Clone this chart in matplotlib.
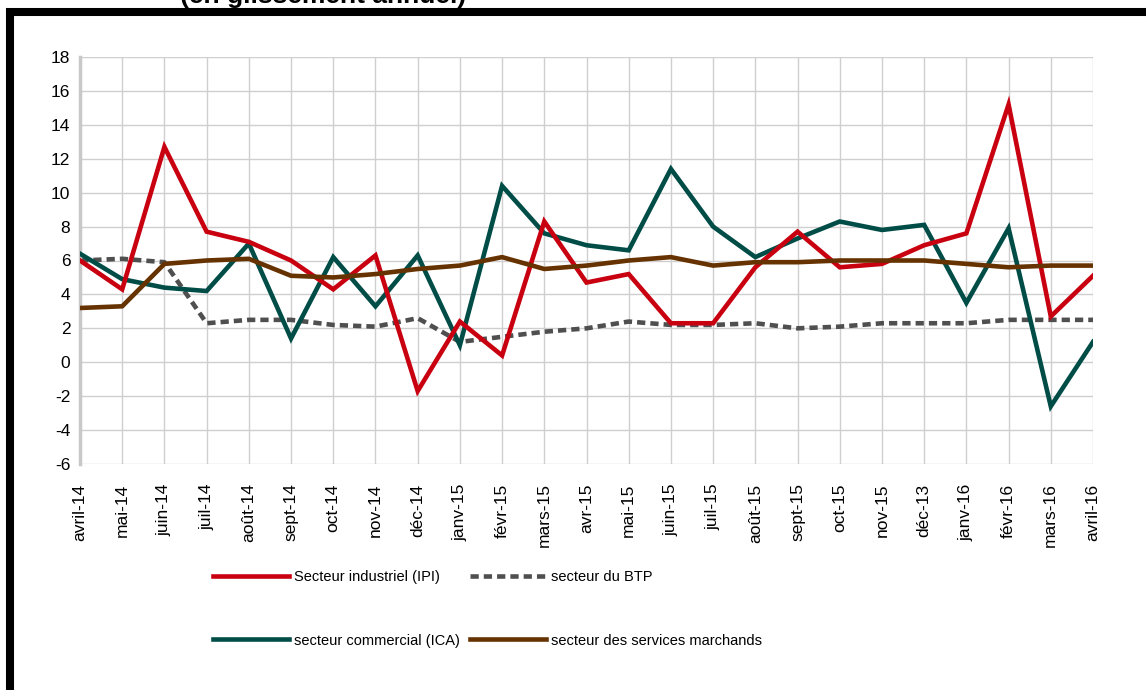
import matplotlib
matplotlib.use("Agg")
import matplotlib.pyplot as plt
from matplotlib.patches import Rectangle


# Months shown on the x axis (as written in the source chart)
mois = ["avril-14", "mai-14", "juin-14", "juil-14", "août-14", "sept-14",
        "oct-14", "nov-14", "déc-14", "janv-15", "févr-15", "mars-15",
        "avr-15", "mai-15", "juin-15", "juil-15", "août-15", "sept-15",
        "oct-15", "nov-15", "déc-13", "janv-16", "févr-16", "mars-16",
        "avril-16"]

# Year-on-year growth
ipi = [6.0, 4.3, 12.7, 7.7, 7.1, 6.0, 4.3, 6.3, -1.7, 2.4, 0.4, 8.3, 4.7,
       5.2, 2.3, 2.3, 5.6, 7.7, 5.6, 5.8, 6.9, 7.6, 15.2, 2.7, 5.1]
ica = [6.4, 4.9, 4.4, 4.2, 7.0, 1.4, 6.2, 3.3, 6.3, 1.0, 10.4, 7.6, 6.9,
       6.6, 11.4, 8.0, 6.2, 7.3, 8.3, 7.8, 8.1, 3.5, 7.9, -2.6, 1.2]
btp = [6.0, 6.1, 5.9, 2.3, 2.5, 2.5, 2.2, 2.1, 2.6, 1.2, 1.5, 1.8, 2.0,
       2.4, 2.2, 2.2, 2.3, 2.0, 2.1, 2.3, 2.3, 2.3, 2.5, 2.5, 2.5]
services = [3.2, 3.3, 5.8, 6.0, 6.1, 5.1, 5.0, 5.2, 5.5, 5.7, 6.2, 5.5, 5.7,
            6.0, 6.2, 5.7, 5.9, 5.9, 6.0, 6.0, 6.0, 5.8, 5.6, 5.7, 5.7]

y_ticks = list(range(-6, 19, 2))

plt.rcParams['font.family'] = ['Liberation Sans', 'DejaVu Sans']
plt.rcParams['axes.unicode_minus'] = False

fig = plt.figure(figsize=(11.46, 6.9), dpi=100)
ax = fig.add_axes([80 / 1146, 1 - 464 / 690, (1093 - 80) / 1146, (464 - 57) / 690])

x = list(range(len(mois)))
l_ipi, = ax.plot(x, ipi, color="#C8000F", lw=3.3, solid_joinstyle="miter",
                 label="Secteur industriel (IPI)", zorder=4)
l_ica, = ax.plot(x, ica, color="#004D47", lw=3.3, solid_joinstyle="miter",
                 label="secteur commercial (ICA)", zorder=3)
l_btp, = ax.plot(x, btp, color="#4F4F4F", lw=3.3, linestyle=(0, (1.8, 1.1)),
                 label="secteur du BTP", zorder=2)
l_srv, = ax.plot(x, services, color="#653200", lw=3.3,
                 label="secteur des services marchands", zorder=5)

ax.set_xlim(0, len(mois) - 1)
ax.set_ylim(-6, 18)
ax.set_yticks(y_ticks)
ax.set_xticks(x)
ax.set_xticklabels(mois, rotation=90)
ax.tick_params(axis="y", length=0, pad=7, labelsize=12.5)
ax.tick_params(axis="x", length=0, pad=14, labelsize=12.5)
ax.grid(True, color="#CFCFCF", lw=1)
ax.set_axisbelow(True)
for side in ["top", "right", "bottom"]:
    ax.spines[side].set_visible(False)
ax.spines["left"].set_color("#C8C8C8")
ax.spines["left"].set_linewidth(2.5)

# Legend: two columns, wide row gap
fig.legend([l_ipi, l_ica, l_btp, l_srv],
           [l.get_label() for l in [l_ipi, l_ica, l_btp, l_srv]],
           loc="upper left", bbox_to_anchor=(213 / 1146, 1 - 570 / 690),
           ncol=2, frameon=False, borderpad=0, borderaxespad=0,
           handlelength=5.2, handletextpad=0.35, labelspacing=3.4,
           columnspacing=0.7,
           prop={"size": 10.5})

# Cut-off title at the very top
fig.text(180 / 1146, 1 - 3 / 690, "(en glissement annuel)", ha="left",
         va="baseline", fontsize=19, fontweight="bold")

# Thick black frame around the chart
fig.patches.append(Rectangle((9.5 / 1146, -0.1), (1147 - 9.5) / 1146, 1.1 - 12 / 690,
                             transform=fig.transFigure, fill=False,
                             edgecolor="black", lw=5.8, clip_on=False))

fig.savefig("out.png", dpi=100)
